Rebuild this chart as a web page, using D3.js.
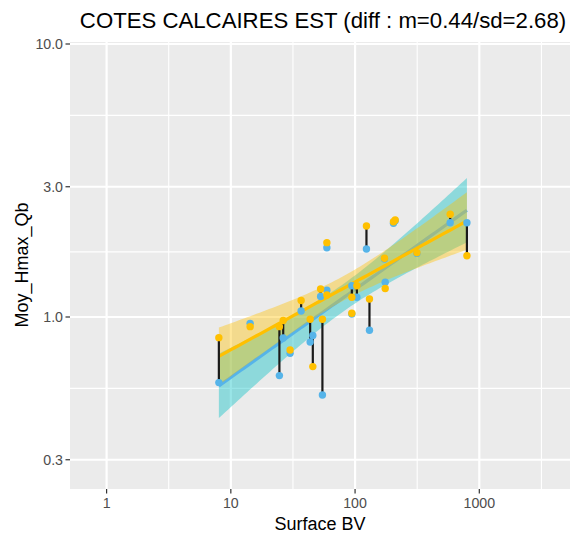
<!DOCTYPE html>
<html>
<head>
<meta charset="utf-8">
<script src="https://cdn.jsdelivr.net/npm/d3@7"></script>
<style>
  body { margin: 0; background: #ffffff; }
  text { font-family: "Liberation Sans", Arial, sans-serif; }
</style>
</head>
<body>
<svg id="chart" width="572" height="540"></svg>
<script>
// Catchment surface (km²) and the two mean Hmax/Qb estimates per station
const surfaceBV = [8.01, 14.3, 24.6, 26.4, 30.0, 36.8, 43.5, 45.7, 52.8, 59.3, 54.6, 59.3,
                   94.2, 103.4, 94.2, 123.5, 130.6, 172.5, 174.8, 203.8, 210.3, 314.5, 583.1, 794.9];
const hmaxGold = [0.840, 0.922, 0.922, 0.971, 0.757, 1.149, 0.981, 0.658, 1.266, 1.204, 0.981, 1.872,
                  1.181, 1.302, 1.032, 2.154, 1.164, 1.641, 1.272, 2.234, 2.266, 1.720, 2.378, 1.677];
const hmaxBlue = [0.575, 0.948, 0.610, 0.838, 0.736, 1.052, 0.810, 0.856, 1.189, 1.253, 0.518, 1.794,
                  1.302, 1.181, 1.026, 1.775, 0.894, 1.630, 1.340, 2.204, 2.250, 1.710, 2.215, 2.215];

const xTickValues = [1, 10, 100, 1000];
const xTickLabels = ["1", "10", "100", "1000"];
const yTickValues = [0.3, 1, 3, 10];
const yTickLabels = ["0.3", "1.0", "3.0", "10.0"];

const titleText = "COTES CALCAIRES EST (diff : m=0.44/sd=2.68)";
const xTitle = "Surface BV";
const yTitle = "Moy_Hmax_Qb";

const colBlue = "#56B4E9";
const colBlueFill = "#00BFC4";
const colGold = "#FFC000";
const colGoldFill = "#FFC000";

const svg = d3.select("#chart");
const panel = { left: 70, right: 570, top: 42, bottom: 489 };

const x = d3.scaleLog().domain([1, 1000]).range([106.6, 479.3]);
const y = d3.scaleLog().domain([1, 10]).range([317, 44]);

// panel background
svg.append("rect")
  .attr("x", panel.left).attr("y", panel.top)
  .attr("width", panel.right - panel.left).attr("height", panel.bottom - panel.top)
  .attr("fill", "#EBEBEB");

// minor grid: halfway (in log space) between major breaks
const lx = v => Math.log10(v);
const xMinor = [0.5, 1.5, 2.5, 3.5].map(p => Math.pow(10, p));
const yMinor = [(lx(0.3) + 0) / 2, (0 + lx(3)) / 2, (lx(3) + 1) / 2].map(p => Math.pow(10, p));

const grid = svg.append("g");
grid.selectAll(".xmin").data(xMinor).join("line")
  .attr("x1", d => x(d)).attr("x2", d => x(d))
  .attr("y1", panel.top).attr("y2", panel.bottom)
  .attr("stroke", "#fff").attr("stroke-width", 1.1);
grid.selectAll(".ymin").data(yMinor).join("line")
  .attr("y1", d => y(d)).attr("y2", d => y(d))
  .attr("x1", panel.left).attr("x2", panel.right)
  .attr("stroke", "#fff").attr("stroke-width", 1.1);
grid.selectAll(".xmaj").data(xTickValues).join("line")
  .attr("x1", d => x(d)).attr("x2", d => x(d))
  .attr("y1", panel.top).attr("y2", panel.bottom)
  .attr("stroke", "#fff").attr("stroke-width", 2.2);
grid.selectAll(".ymaj").data(yTickValues).join("line")
  .attr("y1", d => y(d)).attr("y2", d => y(d))
  .attr("x1", panel.left).attr("x2", panel.right)
  .attr("stroke", "#fff").attr("stroke-width", 2.2);

// Student t 0.975 quantile (Cornish-Fisher expansion)
function tQuantile975(df) {
  const z = 1.959964, z2 = z * z;
  const g1 = (z2 + 1) * z / 4;
  const g2 = ((5 * z2 + 16) * z2 + 3) * z / 96;
  const g3 = (((3 * z2 + 19) * z2 + 17) * z2 - 15) * z / 384;
  const g4 = ((((79 * z2 + 776) * z2 + 1482) * z2 - 1920) * z2 - 945) * z / 92160;
  return z + g1 / df + g2 / df ** 2 + g3 / df ** 3 + g4 / df ** 4;
}

// linear fit in log-log space with 95% confidence band
function lmBand(xs, ys, steps = 80) {
  const X = xs.map(lx), Y = ys.map(lx), n = X.length;
  const mx = d3.mean(X), my = d3.mean(Y);
  let sxx = 0, sxy = 0;
  X.forEach((v, i) => { sxx += (v - mx) ** 2; sxy += (v - mx) * (Y[i] - my); });
  const b = sxy / sxx, a = my - b * mx;
  let ss = 0;
  X.forEach((v, i) => { ss += (Y[i] - (a + b * v)) ** 2; });
  const s = Math.sqrt(ss / (n - 2)), t = tQuantile975(n - 2);
  const [lo, hi] = d3.extent(X);
  return d3.range(steps).map(i => {
    const g = lo + (hi - lo) * i / (steps - 1);
    const fit = a + b * g;
    const se = s * Math.sqrt(1 / n + (g - mx) ** 2 / sxx);
    return { x: Math.pow(10, g), y: Math.pow(10, fit),
             lo: Math.pow(10, fit - t * se), hi: Math.pow(10, fit + t * se) };
  });
}

const area = d3.area().x(d => x(d.x)).y0(d => y(d.lo)).y1(d => y(d.hi));
const line = d3.line().x(d => x(d.x)).y(d => y(d.y));

function drawSmooth(vals, stroke, fill) {
  const band = lmBand(surfaceBV, vals);
  svg.append("path").datum(band).attr("d", area)
    .attr("fill", fill).attr("fill-opacity", 0.4);
  svg.append("path").datum(band).attr("d", line)
    .attr("fill", "none").attr("stroke", stroke).attr("stroke-width", 3.2);
}
drawSmooth(hmaxBlue, colBlue, colBlueFill);
drawSmooth(hmaxGold, colGold, colGoldFill);

// difference segments
const idx = d3.range(surfaceBV.length);
svg.append("g").selectAll("line").data(idx).join("line")
  .attr("x1", i => x(surfaceBV[i])).attr("x2", i => x(surfaceBV[i]))
  .attr("y1", i => y(hmaxBlue[i])).attr("y2", i => y(hmaxGold[i]))
  .attr("stroke", "#1a1a1a").attr("stroke-width", 2.2);

svg.append("g").selectAll("circle").data(idx).join("circle")
  .attr("cx", i => x(surfaceBV[i])).attr("cy", i => y(hmaxBlue[i]))
  .attr("r", 3.7).attr("fill", colBlue);
svg.append("g").selectAll("circle").data(idx).join("circle")
  .attr("cx", i => x(surfaceBV[i])).attr("cy", i => y(hmaxGold[i]))
  .attr("r", 3.7).attr("fill", colGold);

// axes
const xAxis = svg.append("g");
xAxis.selectAll("line").data(xTickValues).join("line")
  .attr("x1", d => x(d)).attr("x2", d => x(d))
  .attr("y1", panel.bottom).attr("y2", panel.bottom + 4.5)
  .attr("stroke", "#333").attr("stroke-width", 1.2);
xAxis.selectAll("text").data(xTickValues).join("text")
  .attr("x", d => x(d)).attr("y", 508)
  .attr("text-anchor", "middle").attr("font-size", 14.2).attr("fill", "#4D4D4D")
  .text((d, i) => xTickLabels[i]);

const yAxis = svg.append("g");
yAxis.selectAll("line").data(yTickValues).join("line")
  .attr("y1", d => y(d)).attr("y2", d => y(d))
  .attr("x1", panel.left - 4.5).attr("x2", panel.left)
  .attr("stroke", "#333").attr("stroke-width", 1.2);
yAxis.selectAll("text").data(yTickValues).join("text")
  .attr("x", 63).attr("y", d => y(d) + 5)
  .attr("text-anchor", "end").attr("font-size", 14.2).attr("fill", "#4D4D4D")
  .text((d, i) => yTickLabels[i]);

svg.append("text").attr("x", 320).attr("y", 530)
  .attr("text-anchor", "middle").attr("font-size", 18).attr("fill", "#000")
  .text(xTitle);
svg.append("text").attr("transform", "translate(28,265) rotate(-90)")
  .attr("text-anchor", "middle").attr("font-size", 18).attr("fill", "#000")
  .text(yTitle);
svg.append("text").attr("x", 323).attr("y", 28)
  .attr("text-anchor", "middle").attr("font-size", 22.2).attr("fill", "#000")
  .text(titleText);
</script>
</body>
</html>
